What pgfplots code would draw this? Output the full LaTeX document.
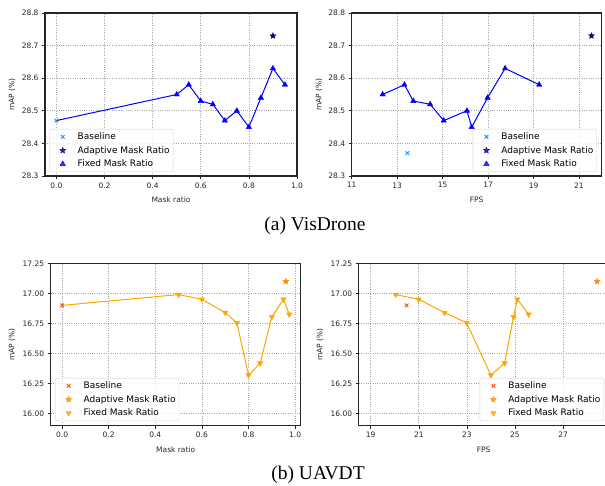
\documentclass[border=0pt]{standalone}
\usepackage{fontspec}
\setmainfont{DejaVu Sans}
\newfontfamily\capfont{Liberation Serif}
\usepackage{pgfplots}
\pgfplotsset{compat=1.18}

\definecolor{mplblue}{RGB}{0,0,255}
\definecolor{dodger}{RGB}{30,144,255}
\definecolor{mnavy}{RGB}{0,0,128}
\definecolor{orng}{RGB}{255,165,0}
\definecolor{dorng}{RGB}{255,140,0}
\definecolor{ored}{RGB}{255,69,0}

\pgfdeclareplotmark{fstar}{%
  \pgfpathmoveto{\pgfpointpolar{90}{\pgfplotmarksize}}%
  \pgfpathlineto{\pgfpointpolar{126}{0.45\pgfplotmarksize}}%
  \pgfpathlineto{\pgfpointpolar{162}{\pgfplotmarksize}}%
  \pgfpathlineto{\pgfpointpolar{198}{0.45\pgfplotmarksize}}%
  \pgfpathlineto{\pgfpointpolar{234}{\pgfplotmarksize}}%
  \pgfpathlineto{\pgfpointpolar{270}{0.45\pgfplotmarksize}}%
  \pgfpathlineto{\pgfpointpolar{306}{\pgfplotmarksize}}%
  \pgfpathlineto{\pgfpointpolar{342}{0.45\pgfplotmarksize}}%
  \pgfpathlineto{\pgfpointpolar{18}{\pgfplotmarksize}}%
  \pgfpathlineto{\pgfpointpolar{54}{0.45\pgfplotmarksize}}%
  \pgfpathclose
  \pgfusepathqfillstroke
}

\pgfplotsset{
  myaxis/.style={
    scale only axis, height=163pt,
    axis line style={black!85, line width=1.1pt},
    tick align=outside, major tick length=3pt,
    tick style={black!85, line width=0.6pt},
    xtick pos=bottom, ytick pos=left,
    grid=major,
    major grid style={gray!70, line width=0.7pt, dash pattern=on 1pt off 1.3pt},
    ticklabel style={font=\fontsize{7.5}{9}\selectfont, text=black!85},
    /pgf/number format/assume math mode=true,
    scaled ticks=false,
    label style={font=\fontsize{7.5}{9}\selectfont, text=black!85},
    legend style={font=\fontsize{9}{11}\selectfont, draw=gray!35, rounded corners=2pt,
      fill=white, fill opacity=0.8, text opacity=1, draw opacity=1, inner sep=1.5pt,
      row sep=1.3pt},
    legend cell align=left,
    legend image code/.code={%
      \draw[#1] plot coordinates {(0pt,0pt)};
      \path[draw=none,fill=none] (-12pt,0pt) -- (13pt,0pt);},
    x label style={at={(axis description cs:0.5,-0.147)}, anchor=center},
    y label style={at={(axis description cs:-0.131,0.5)}, anchor=center},
    ylabel={mAP (\%)},
  },
  topy/.style={ymin=28.3, ymax=28.8, ytick={28.3,28.4,28.5,28.6,28.7,28.8},
    yticklabel style={/pgf/number format/.cd, fixed, fixed zerofill, precision=1}},
  boty/.style={height=162.4pt, ymin=15.9, ymax=17.25, ytick={16,16.25,16.5,16.75,17,17.25},
    yticklabel style={/pgf/number format/.cd, fixed, fixed zerofill, precision=2}},
}

\begin{document}
\begin{tikzpicture}
\useasboundingbox (0,0) rectangle (605pt,485pt);

% ---------- (a) VisDrone : mask ratio ----------
\begin{axis}[myaxis, topy, at={(45pt,309pt)}, anchor=south west, width=252pt,
  xmin=-0.0475, xmax=1.0, xtick={0,0.2,0.4,0.6,0.8,1.0},
  xticklabel style={/pgf/number format/.cd, fixed, fixed zerofill, precision=1},
  xlabel={Mask ratio},
  legend style={at={(0.016,0.025)}, anchor=south west}]
\addplot[mplblue, line width=1pt, forget plot] coordinates {
(0,28.47) (0.5,28.55) (0.55,28.58) (0.6,28.53) (0.65,28.52) (0.7,28.47)
(0.75,28.50) (0.8,28.45) (0.85,28.54) (0.9,28.63) (0.95,28.58)};
\addplot[only marks, mark=x, mark size=2.6pt, dodger, line width=0.9pt] coordinates {(0,28.47)};
\addlegendentry{Baseline}
\addplot[only marks, mark=fstar, mark size=3.1pt, mnavy, fill=mnavy] coordinates {(0.9,28.73)};
\addlegendentry{Adaptive Mask Ratio}
\addplot[only marks, mark=triangle*, mark size=3.1pt, mplblue, fill=mplblue] coordinates {
(0.5,28.55) (0.55,28.58) (0.6,28.53) (0.65,28.52) (0.7,28.47)
(0.75,28.50) (0.8,28.45) (0.85,28.54) (0.9,28.63) (0.95,28.58)};
\addlegendentry{Fixed Mask Ratio}
\end{axis}

% ---------- (a) VisDrone : FPS ----------
\begin{axis}[myaxis, topy, at={(351.7pt,309pt)}, anchor=south west, width=250pt,
  xmin=11, xmax=22, xtick={11,13,15,17,19,21},
  xlabel={FPS},
  legend style={at={(0.981,0.025)}, anchor=south east}]
\addplot[mplblue, line width=1pt, forget plot] coordinates {
(12.36,28.55) (13.32,28.58) (13.71,28.53) (14.45,28.52) (15.05,28.47)
(16.07,28.50) (16.28,28.45) (16.98,28.54) (17.75,28.63) (19.25,28.58)};
\addplot[only marks, mark=x, mark size=2.6pt, dodger, line width=0.9pt] coordinates {(13.45,28.37)};
\addlegendentry{Baseline}
\addplot[only marks, mark=fstar, mark size=3.1pt, mnavy, fill=mnavy] coordinates {(21.55,28.73)};
\addlegendentry{Adaptive Mask Ratio}
\addplot[only marks, mark=triangle*, mark size=3.1pt, mplblue, fill=mplblue] coordinates {
(12.36,28.55) (13.32,28.58) (13.71,28.53) (14.45,28.52) (15.05,28.47)
(16.07,28.50) (16.28,28.45) (16.98,28.54) (17.75,28.63) (19.25,28.58)};
\addlegendentry{Fixed Mask Ratio}
\end{axis}

% ---------- (b) UAVDT : mask ratio ----------
\begin{axis}[myaxis, boty, at={(50.7pt,59.3pt)}, anchor=south west, width=250pt,
  xmin=-0.04875, xmax=1.02375, xtick={0,0.2,0.4,0.6,0.8,1.0},
  xticklabel style={/pgf/number format/.cd, fixed, fixed zerofill, precision=1},
  xlabel={Mask ratio},
  x label style={at={(axis description cs:0.5,-0.148)}},
  y label style={at={(axis description cs:-0.155,0.5)}},
  legend style={at={(0.017,0.029)}, anchor=south west}]
\addplot[orng, line width=1pt, forget plot] coordinates {
(0,16.90) (0.5,16.99) (0.6,16.95) (0.7,16.84) (0.75,16.755) (0.8,16.32)
(0.85,16.42) (0.9,16.805) (0.95,16.95) (0.975,16.825)};
\addplot[only marks, mark=x, mark size=2.6pt, ored, line width=0.9pt] coordinates {(0,16.90)};
\addlegendentry{Baseline}
\addplot[only marks, mark=fstar, mark size=3.1pt, dorng, fill=dorng] coordinates {(0.96,17.10)};
\addlegendentry{Adaptive Mask Ratio}
\addplot[only marks, mark=triangle*, mark size=3.1pt, mark options={rotate=180}, orng, fill=orng] coordinates {
(0.5,16.99) (0.6,16.95) (0.7,16.84) (0.75,16.755) (0.8,16.32)
(0.85,16.42) (0.9,16.805) (0.95,16.95) (0.975,16.825)};
\addlegendentry{Fixed Mask Ratio}
\end{axis}

% ---------- (b) UAVDT : FPS ----------
\begin{axis}[myaxis, boty, at={(358.7pt,59.3pt)}, anchor=south west, width=250pt,
  xmin=18.5, xmax=28.9, xtick={19,21,23,25,27},
  xlabel={FPS},
  x label style={at={(axis description cs:0.5,-0.148)}},
  y label style={at={(axis description cs:-0.155,0.5)}},
  legend style={at={(0.981,0.029)}, anchor=south east}]
\addplot[orng, line width=1pt, forget plot] coordinates {
(20.04,16.99) (21.0,16.95) (22.07,16.84) (22.99,16.755) (24.0,16.32)
(24.57,16.42) (24.94,16.805) (25.10,16.95) (25.57,16.825)};
\addplot[only marks, mark=x, mark size=2.6pt, ored, line width=0.9pt] coordinates {(20.49,16.90)};
\addlegendentry{Baseline}
\addplot[only marks, mark=fstar, mark size=3.1pt, dorng, fill=dorng] coordinates {(28.42,17.10)};
\addlegendentry{Adaptive Mask Ratio}
\addplot[only marks, mark=triangle*, mark size=3.1pt, mark options={rotate=180}, orng, fill=orng] coordinates {
(20.04,16.99) (21.0,16.95) (22.07,16.84) (22.99,16.755) (24.0,16.32)
(24.57,16.42) (24.94,16.805) (25.10,16.95) (25.57,16.825)};
\addlegendentry{Fixed Mask Ratio}
\end{axis}

\node[font=\capfont\fontsize{19.5}{22}\selectfont, anchor=base] at (315pt,254pt) {(a) VisDrone};
\node[font=\capfont\fontsize{19.5}{22}\selectfont, anchor=base] at (318pt,6pt) {(b) UAVDT};
\end{tikzpicture}
\end{document}
